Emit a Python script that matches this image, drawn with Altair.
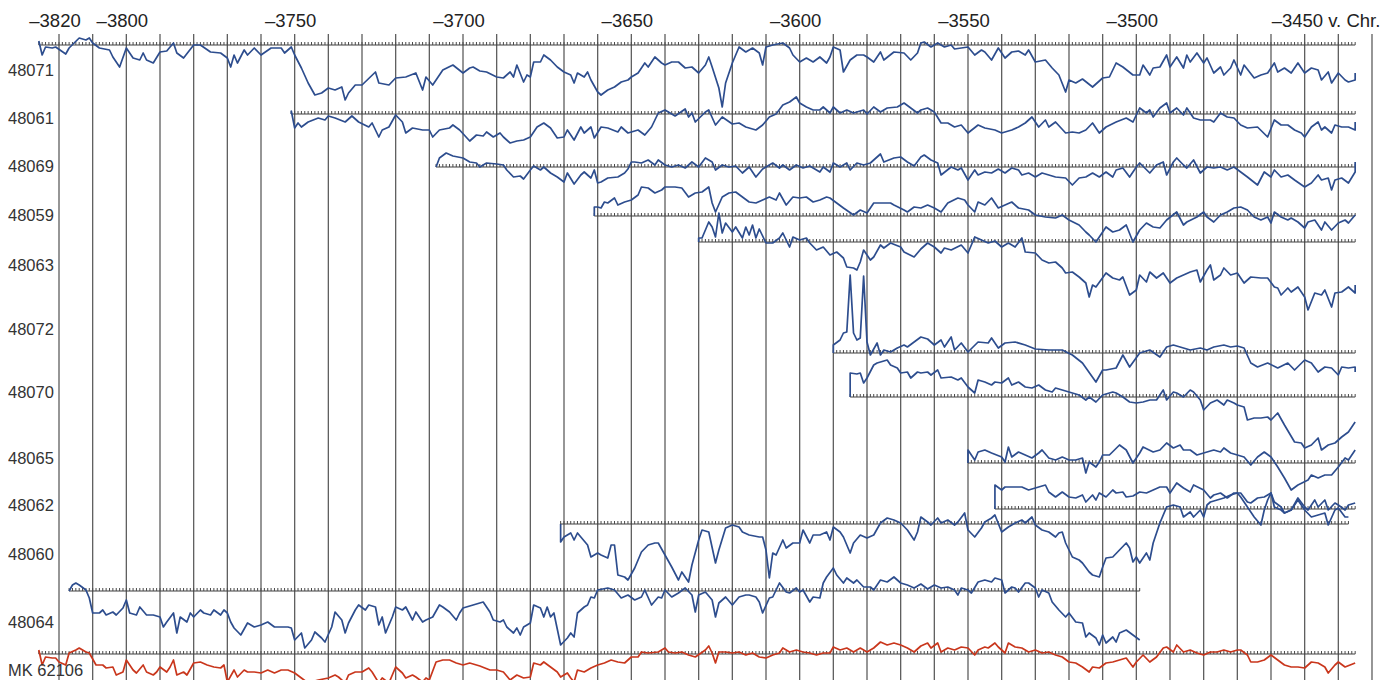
import altair as alt
import pandas as pd

# ---------------- data (years BC as negative numbers; curve values = deviation above the ruler line) -------------
SERIES = ["48071", "48061", "48069", "48059", "48063", "48072", "48070",
          "48065", "48062", "48060", "48064", "MK 62106"]
RULER_START = [-3826, -3751, -3708, -3661, -3630, -3590, -3585, -3550, -3542, -3671, -3817, -3826]
RULER_END = [-3435, -3435, -3435, -3435, -3435, -3435, -3435, -3435, -3435, -3437, -3499, -3435]

S_48071 = [(-3826,4),(-3825,-10),(-3824,-2),(-3822,-3),(-3821,-2),(-3818,-9),(-3817,-3),(-3814,7),(-3812,5),(-3811,7),
 (-3810,2),(-3808,-3),(-3805,-5),(-3804,-12),(-3802,-22),(-3800,-3),(-3798,-13),(-3796,-15),(-3795,-8),(-3794,-15),
 (-3792,-18),(-3790,-7),(-3788,-6),(-3786,2),(-3785,-8),(-3783,-13),(-3780,0),(-3778,0),(-3775,-7),(-3772,-8),
 (-3770,-13),(-3769,-22),(-3768,-10),(-3767,-18),(-3765,-5),(-3764,-10),(-3762,-3),(-3760,-10),(-3757,-3),(-3754,-3),
 (-3753,-8),(-3751,-2),(-3750,-10),(-3748,-23),(-3746,-38),(-3744,-50),(-3742,-48),(-3740,-43),(-3738,-45),(-3736,-42),
 (-3735,-55),(-3734,-48),(-3732,-40),(-3730,-40),(-3726,-27),(-3725,-38),(-3722,-40),(-3720,-33),(-3717,-32),(-3714,-28),
 (-3712,-45),(-3711,-32),(-3709,-40),(-3706,-25),(-3703,-20),(-3700,-28),(-3698,-23),(-3697,-22),(-3695,-26),(-3693,-27),
 (-3690,-32),(-3688,-33),(-3686,-27),(-3685,-32),(-3684,-20),(-3682,-37),(-3681,-30),(-3680,-32),(-3679,-17),(-3677,-17),
 (-3676,-10),(-3674,-15),(-3672,-22),(-3670,-27),(-3668,-30),(-3667,-38),(-3666,-28),(-3664,-32),(-3663,-27),(-3662,-35),
 (-3660,-47),(-3659,-50),(-3657,-45),(-3655,-42),(-3653,-37),(-3651,-35),(-3650,-32),(-3648,-28),(-3646,-18),(-3645,-22),
 (-3643,-12),(-3641,-18),(-3640,-20),(-3638,-17),(-3636,-17),(-3634,-23),(-3632,-22),(-3630,-28),(-3628,-20),(-3627,-12),
 (-3626,-22),(-3624,-43),(-3623,-62),(-3622,-38),(-3620,-18),(-3619,-10),(-3618,-2),(-3616,-7),(-3614,-3),(-3612,-8),
 (-3611,-20),(-3610,-2),(-3608,0),(-3605,2),(-3603,-3),(-3602,-10),(-3600,-17),(-3598,-13),(-3596,-17),(-3594,-12),
 (-3592,-18),(-3591,-12),(-3590,-2),(-3588,-5),(-3587,-27),(-3585,-15),(-3583,-10),(-3581,-10),(-3580,-12),(-3578,-17),
 (-3576,-7),(-3575,-15),(-3572,-7),(-3569,-8),(-3567,-15),(-3565,-8),(-3564,2),(-3563,3),(-3561,-2),(-3559,2),
 (-3557,-2),(-3555,0),(-3554,-4),(-3550,-2),(-3548,-10),(-3546,-5),(-3545,-7),(-3543,-15),(-3541,-3),(-3539,-13),
 (-3537,-7),(-3535,-6),(-3533,-10),(-3532,-5),(-3530,-17),(-3527,-15),(-3525,-23),(-3523,-30),(-3521,-47),(-3520,-35),
 (-3518,-38),(-3516,-34),(-3513,-42),(-3510,-33),(-3508,-32),(-3506,-18),(-3504,-22),(-3501,-30),(-3499,-30),(-3498,-20),
 (-3496,-30),(-3495,-23),(-3493,-22),(-3491,-10),(-3490,-22),(-3488,-12),(-3486,-23),(-3485,-10),(-3484,-17),(-3482,-8),
 (-3480,-18),(-3479,-13),(-3477,-28),(-3475,-22),(-3474,-30),(-3472,-23),(-3471,-15),(-3469,-30),(-3468,-20),(-3465,-33),
 (-3463,-30),(-3461,-28),(-3459,-18),(-3458,-27),(-3456,-23),(-3454,-28),(-3452,-18),(-3450,-28),(-3448,-23),(-3446,-25),
 (-3445,-35),(-3443,-27),(-3442,-38),(-3440,-28),(-3438,-35),(-3437,-37),(-3435,-35),(-3435,-28)]

S_48061 = [(-3751,0),(-3751,3),(-3750,-14),(-3749,-9),(-3748,-13),(-3746,-8),(-3743,-4),(-3741,-6),(-3740,-2),(-3738,-4),
 (-3735,-8),(-3733,-2),(-3731,-8),(-3728,-13),(-3727,-9),(-3725,-23),(-3724,-16),(-3722,-13),(-3720,-1),(-3718,-8),
 (-3717,-19),(-3715,-14),(-3712,-16),(-3710,-16),(-3709,-23),(-3707,-16),(-3704,-14),(-3703,-11),(-3701,-16),(-3698,-27),
 (-3696,-21),(-3694,-22),(-3693,-18),(-3691,-23),(-3689,-19),(-3688,-23),(-3686,-29),(-3684,-27),(-3682,-26),(-3680,-23),
 (-3678,-13),(-3676,-9),(-3674,-14),(-3672,-24),(-3670,-23),(-3669,-16),(-3667,-26),(-3665,-13),(-3664,-19),(-3662,-13),
 (-3661,-24),(-3659,-13),(-3657,-14),(-3654,-18),(-3653,-13),(-3651,-19),(-3648,-16),(-3646,-21),(-3644,-13),(-3642,1),
 (-3640,4),(-3638,0),(-3637,-2),(-3634,5),(-3633,-3),(-3632,1),(-3631,-8),(-3628,2),(-3627,4),(-3625,-11),
 (-3623,-3),(-3620,-10),(-3618,-9),(-3616,-13),(-3613,-16),(-3611,-11),(-3609,-3),(-3607,0),(-3605,9),(-3603,12),
 (-3601,17),(-3600,11),(-3598,7),(-3596,4),(-3594,4),(-3593,7),(-3591,1),(-3590,7),(-3588,1),(-3586,4),
 (-3584,1),(-3581,4),(-3580,0),(-3578,7),(-3576,2),(-3574,6),(-3571,7),(-3569,11),(-3567,6),(-3565,1),
 (-3564,4),(-3562,6),(-3560,2),(-3558,-9),(-3556,-9),(-3554,-13),(-3552,-11),(-3550,-19),(-3547,-11),(-3545,-14),
 (-3542,-16),(-3540,-19),(-3537,-16),(-3535,-13),(-3533,-9),(-3531,-3),(-3529,-13),(-3527,-6),(-3526,-13),(-3524,-8),
 (-3521,-19),(-3519,-18),(-3517,-19),(-3515,-16),(-3513,-9),(-3511,-19),(-3509,-13),(-3506,-8),(-3503,-4),(-3501,-8),
 (-3499,6),(-3497,1),(-3496,4),(-3495,-3),(-3493,6),(-3491,11),(-3490,1),(-3488,6),(-3486,-1),(-3485,6),
 (-3483,-4),(-3481,-6),(-3478,-6),(-3477,-8),(-3475,1),(-3473,-3),(-3471,-4),(-3469,-11),(-3467,-14),(-3464,-13),
 (-3461,-23),(-3459,-6),(-3457,-11),(-3455,-11),(-3453,-16),(-3451,-19),(-3450,-23),(-3448,-13),(-3446,-8),(-3445,-16),
 (-3444,-13),(-3442,-19),(-3441,-11),(-3439,-13),(-3437,-13),(-3435,-16),(-3435,-8)]

S_48069 = [(-3708,0),(-3707,9),(-3705,14),(-3703,11),(-3700,9),(-3698,5),(-3696,4),(-3695,0),(-3693,4),(-3690,3),
 (-3688,2),(-3687,-3),(-3685,-10),(-3683,-9),(-3682,-12),(-3680,-3),(-3679,1),(-3677,-3),(-3676,0),(-3674,-6),
 (-3672,-10),(-3670,-15),(-3669,-6),(-3667,-17),(-3665,-8),(-3664,-5),(-3662,-11),(-3661,-3),(-3660,-16),(-3659,-15),
 (-3657,-11),(-3654,-10),(-3652,-6),(-3651,-2),(-3650,5),(-3649,5),(-3647,4),(-3645,7),(-3643,2),(-3642,7),
 (-3640,2),(-3638,0),(-3636,2),(-3634,-1),(-3632,5),(-3630,0),(-3628,9),(-3626,5),(-3625,-3),(-3623,2),
 (-3621,0),(-3619,1),(-3617,-6),(-3615,0),(-3613,-10),(-3611,-2),(-3609,2),(-3608,4),(-3606,-1),(-3605,2),
 (-3603,-3),(-3601,2),(-3599,-1),(-3597,1),(-3594,-5),(-3593,0),(-3591,-5),(-3590,4),(-3588,0),(-3586,4),
 (-3585,-3),(-3583,4),(-3581,2),(-3579,4),(-3576,13),(-3575,5),(-3572,9),(-3570,10),(-3568,5),(-3566,1),
 (-3564,10),(-3563,12),(-3561,7),(-3559,4),(-3558,-8),(-3555,0),(-3553,-3),(-3552,-1),(-3550,-13),(-3548,-3),
 (-3547,-8),(-3545,-5),(-3543,-6),(-3541,-2),(-3539,-6),(-3537,-1),(-3535,-3),(-3534,-8),(-3532,-6),(-3530,-10),
 (-3528,-6),(-3526,-8),(-3524,-10),(-3521,-11),(-3519,-18),(-3517,-11),(-3515,-10),(-3513,-6),(-3511,-10),(-3509,-5),
 (-3507,-10),(-3506,-3),(-3504,-1),(-3502,-10),(-3500,0),(-3499,4),(-3496,-6),(-3494,2),(-3492,5),(-3491,-8),
 (-3489,5),(-3488,9),(-3486,2),(-3485,-1),(-3483,7),(-3481,-6),(-3479,0),(-3477,-1),(-3475,0),(-3473,-3),
 (-3471,0),(-3469,-5),(-3467,-10),(-3464,-18),(-3462,-5),(-3460,-10),(-3459,-3),(-3457,-10),(-3455,-8),(-3453,-13),
 (-3450,-20),(-3448,-16),(-3446,-8),(-3445,-13),(-3443,-11),(-3442,-23),(-3441,-13),(-3439,-11),(-3437,-16),(-3435,-5),
 (-3435,5)]

S_48059 = [(-3661,0),(-3661,9),(-3660,9),(-3659,8),(-3658,14),(-3657,13),(-3655,18),(-3654,11),(-3652,14),(-3650,16),
 (-3648,21),(-3647,29),(-3645,28),(-3643,23),(-3641,26),(-3640,29),(-3637,29),(-3635,28),(-3633,19),(-3631,23),
 (-3629,24),(-3627,29),(-3626,13),(-3625,4),(-3623,19),(-3621,23),(-3619,24),(-3617,19),(-3615,14),(-3613,13),
 (-3611,16),(-3609,19),(-3607,16),(-3606,23),(-3604,11),(-3602,19),(-3600,18),(-3598,19),(-3596,14),(-3594,16),
 (-3592,19),(-3591,18),(-3589,13),(-3587,8),(-3584,1),(-3582,6),(-3580,3),(-3578,13),(-3576,13),(-3573,13),
 (-3572,11),(-3569,6),(-3568,4),(-3566,9),(-3564,8),(-3562,11),(-3560,8),(-3558,4),(-3556,13),(-3553,18),
 (-3551,16),(-3550,11),(-3548,4),(-3547,14),(-3545,11),(-3543,18),(-3541,8),(-3539,11),(-3537,14),(-3535,8),
 (-3532,6),(-3530,1),(-3527,-1),(-3524,-2),(-3522,1),(-3520,-4),(-3517,-9),(-3515,-16),(-3514,-19),(-3512,-26),
 (-3510,-16),(-3509,-11),(-3507,-16),(-3505,-14),(-3503,-9),(-3501,-26),(-3499,-14),(-3497,-7),(-3495,-11),(-3493,-12),
 (-3491,-4),(-3488,4),(-3486,-9),(-3485,-6),(-3482,-1),(-3480,4),(-3479,-1),(-3477,-6),(-3475,1),(-3473,4),
 (-3471,8),(-3469,9),(-3467,6),(-3465,-1),(-3463,-4),(-3461,-1),(-3460,-7),(-3459,4),(-3457,-1),(-3455,-4),
 (-3454,-2),(-3452,-6),(-3450,-12),(-3449,-6),(-3447,-4),(-3445,-14),(-3444,-6),(-3442,-14),(-3440,-7),(-3438,-4),
 (-3437,-7),(-3435,1)]

S_48063 = [(-3630,0),(-3630,4),(-3629,4),(-3627,20),(-3626,15),(-3625,5),(-3624,29),(-3623,9),(-3622,19),(-3620,10),
 (-3619,15),(-3617,4),(-3616,15),(-3615,7),(-3614,17),(-3613,4),(-3612,13),(-3610,-1),(-3608,-1),(-3606,4),
 (-3605,9),(-3603,-5),(-3602,5),(-3600,2),(-3598,4),(-3597,-1),(-3595,-8),(-3593,-5),(-3591,-13),(-3589,-10),
 (-3587,-16),(-3586,-25),(-3584,-26),(-3583,-28),(-3582,-20),(-3581,-8),(-3579,-18),(-3578,-15),(-3576,-3),(-3575,-6),
 (-3573,-1),(-3570,-5),(-3569,-10),(-3566,-15),(-3564,-7),(-3562,-1),(-3560,-5),(-3558,-11),(-3557,-6),(-3555,-8),
 (-3552,-3),(-3550,-11),(-3548,5),(-3546,2),(-3544,-1),(-3542,1),(-3540,-5),(-3538,-1),(-3536,-5),(-3534,4),
 (-3533,-10),(-3530,-11),(-3528,-18),(-3526,-21),(-3524,-20),(-3522,-26),(-3521,-31),(-3519,-30),(-3517,-35),(-3515,-41),
 (-3514,-55),(-3513,-43),(-3512,-45),(-3509,-31),(-3507,-36),(-3505,-38),(-3504,-35),(-3502,-53),(-3500,-48),(-3499,-33),
 (-3497,-40),(-3496,-30),(-3494,-36),(-3492,-31),(-3490,-41),(-3488,-36),(-3486,-33),(-3484,-30),(-3482,-28),(-3481,-40),
 (-3479,-28),(-3478,-23),(-3477,-38),(-3475,-33),(-3474,-26),(-3472,-33),(-3470,-31),(-3468,-41),(-3466,-35),(-3463,-36),
 (-3461,-36),(-3459,-45),(-3458,-46),(-3457,-53),(-3455,-46),(-3454,-50),(-3452,-45),(-3450,-55),(-3449,-68),(-3447,-51),
 (-3445,-53),(-3444,-48),(-3442,-65),(-3441,-51),(-3439,-50),(-3437,-45),(-3435,-51),(-3435,-43)]

S_48072 = [(-3590,0),(-3590,8),(-3588,13),(-3587,20),(-3586,21),(-3585,78),(-3584,20),(-3583,13),(-3582,15),(-3581,77),
 (-3580,11),(-3579,-2),(-3577,10),(-3576,-2),(-3575,3),(-3573,1),(-3571,5),(-3569,8),(-3568,6),(-3566,11),
 (-3564,16),(-3562,14),(-3560,8),(-3558,13),(-3557,6),(-3555,16),(-3554,3),(-3552,10),(-3550,1),(-3547,11),
 (-3544,10),(-3543,15),(-3541,5),(-3539,10),(-3536,11),(-3533,8),(-3530,4),(-3526,3),(-3522,3),(-3519,-2),
 (-3516,-10),(-3512,-29),(-3510,-17),(-3509,-17),(-3506,-15),(-3504,-2),(-3502,-14),(-3499,0),(-3496,3),(-3493,-4),
 (-3491,6),(-3489,8),(-3484,3),(-3481,5),(-3479,3),(-3477,6),(-3474,8),(-3472,6),(-3470,7),(-3468,5),
 (-3466,-10),(-3464,-14),(-3461,-10),(-3458,-15),(-3455,-10),(-3453,-17),(-3450,-7),(-3448,-10),(-3446,-19),(-3444,-14),
 (-3442,-15),(-3440,-22),(-3439,-14),(-3437,-15),(-3435,-14),(-3435,-19)]

S_48070 = [(-3585,0),(-3585,24),(-3583,23),(-3582,24),(-3581,14),(-3580,19),(-3578,32),(-3577,34),(-3576,35),(-3574,37),
 (-3573,32),(-3571,29),(-3570,24),(-3568,25),(-3567,19),(-3565,25),(-3564,24),(-3562,25),(-3561,22),(-3559,27),
 (-3558,19),(-3555,20),(-3553,17),(-3552,19),(-3550,10),(-3548,4),(-3547,17),(-3545,15),(-3543,12),(-3542,15),
 (-3540,14),(-3538,19),(-3537,12),(-3535,15),(-3533,10),(-3531,9),(-3529,12),(-3527,7),(-3525,5),(-3524,9),
 (-3522,7),(-3519,4),(-3517,2),(-3515,-3),(-3514,0),(-3512,-5),(-3510,2),(-3508,4),(-3507,5),(-3506,4),
 (-3504,0),(-3502,-5),(-3500,-6),(-3498,-5),(-3496,-3),(-3494,-3),(-3492,7),(-3491,-3),(-3489,5),(-3488,4),
 (-3486,0),(-3484,7),(-3483,5),(-3481,-3),(-3480,-13),(-3478,-6),(-3476,-3),(-3474,-8),(-3473,-3),(-3471,-6),
 (-3470,-8),(-3468,-10),(-3467,-23),(-3465,-21),(-3463,-21),(-3461,-20),(-3460,-23),(-3458,-16),(-3456,-28),(-3453,-45),
 (-3451,-46),(-3450,-51),(-3448,-48),(-3446,-41),(-3445,-53),(-3443,-48),(-3441,-46),(-3439,-40),(-3437,-35),(-3436,-30),
 (-3435,-25)]

S_48065 = [(-3550,0),(-3550,13),(-3548,3),(-3547,11),(-3545,13),(-3543,10),(-3540,6),(-3539,1),(-3538,16),(-3537,6),
 (-3535,11),(-3533,8),(-3531,5),(-3529,10),(-3528,13),(-3526,5),(-3524,3),(-3522,6),(-3520,3),(-3518,3),
 (-3516,5),(-3515,-10),(-3514,1),(-3512,-4),(-3511,1),(-3510,8),(-3508,8),(-3505,18),(-3503,13),(-3501,0),
 (-3499,10),(-3498,16),(-3495,11),(-3493,13),(-3491,20),(-3489,15),(-3487,18),(-3486,13),(-3484,13),(-3482,8),
 (-3479,11),(-3477,13),(-3475,11),(-3474,15),(-3472,10),(-3470,8),(-3468,6),(-3466,-2),(-3464,6),(-3462,11),
 (-3460,6),(-3458,-4),(-3456,-15),(-3454,-27),(-3452,-22),(-3449,-17),(-3448,-12),(-3446,-15),(-3444,-12),(-3442,-12),
 (-3440,-4),(-3438,5),(-3437,3),(-3435,13)]

S_48062 = [(-3542,0),(-3542,24),(-3540,19),(-3539,22),(-3536,22),(-3534,22),(-3532,19),(-3530,21),(-3527,24),(-3526,17),
 (-3524,12),(-3522,17),(-3520,12),(-3518,11),(-3516,14),(-3515,7),(-3513,14),(-3512,9),(-3511,16),(-3509,12),
 (-3507,19),(-3506,16),(-3504,17),(-3503,12),(-3501,13),(-3499,17),(-3497,16),(-3495,19),(-3493,22),(-3491,22),
 (-3490,16),(-3488,26),(-3486,21),(-3484,17),(-3483,24),(-3480,19),(-3478,11),(-3477,14),(-3475,16),(-3473,11),
 (-3471,16),(-3469,16),(-3467,7),(-3466,6),(-3464,11),(-3462,12),(-3460,16),(-3459,7),(-3457,2),(-3456,-4),
 (-3454,-1),(-3452,11),(-3450,2),(-3449,-1),(-3447,9),(-3446,2),(-3444,9),(-3443,-1),(-3441,6),(-3440,4),
 (-3438,-1),(-3437,4),(-3435,6)]

S_48060 = [(-3671,0),(-3671,-18),(-3670,-13),(-3668,-9),(-3667,-16),(-3666,-9),(-3665,-13),(-3663,-21),(-3662,-33),(-3660,-29),
 (-3659,-31),(-3657,-34),(-3656,-21),(-3655,-21),(-3654,-51),(-3652,-53),(-3651,-56),(-3649,-44),(-3647,-28),(-3645,-21),
 (-3643,-19),(-3642,-19),(-3640,-31),(-3638,-43),(-3636,-56),(-3635,-48),(-3633,-58),(-3632,-41),(-3630,-16),(-3629,-6),
 (-3627,-8),(-3625,-39),(-3624,-26),(-3622,-4),(-3620,-1),(-3618,-3),(-3617,-8),(-3615,-11),(-3612,-13),(-3611,-13),
 (-3610,-26),(-3609,-54),(-3608,-29),(-3607,-31),(-3605,-16),(-3604,-24),(-3602,-19),(-3600,-19),(-3599,-6),(-3597,-19),
 (-3596,-11),(-3594,-11),(-3592,-8),(-3591,-16),(-3590,-3),(-3588,-8),(-3587,-13),(-3585,-29),(-3584,-19),(-3582,-11),
 (-3580,-14),(-3578,-11),(-3576,1),(-3574,6),(-3572,4),(-3570,1),(-3568,-6),(-3566,-16),(-3565,-8),(-3564,7),
 (-3562,2),(-3561,-1),(-3559,6),(-3558,1),(-3556,4),(-3554,-1),(-3553,2),(-3551,11),(-3550,-6),(-3548,-13),
 (-3546,-4),(-3545,2),(-3543,6),(-3542,9),(-3540,-8),(-3538,-3),(-3536,1),(-3534,4),(-3533,1),(-3531,7),
 (-3530,-1),(-3528,-6),(-3526,-8),(-3524,-13),(-3523,-9),(-3522,-8),(-3521,-19),(-3519,-33),(-3517,-36),(-3516,-39),
 (-3514,-48),(-3513,-51),(-3511,-53),(-3510,-43),(-3509,-34),(-3507,-33),(-3505,-26),(-3503,-19),(-3502,-24),(-3501,-38),
 (-3500,-33),(-3499,-39),(-3497,-29),(-3496,-36),(-3495,-19),(-3493,1),(-3491,17),(-3489,19),(-3487,17),(-3486,7),
 (-3484,12),(-3483,7),(-3481,14),(-3480,7),(-3479,19),(-3478,22),(-3476,24),(-3474,26),(-3472,29),(-3470,31),
 (-3469,27),(-3467,17),(-3465,7),(-3463,-1),(-3462,14),(-3461,24),(-3460,31),(-3459,17),(-3457,14),(-3456,11),
 (-3454,14),(-3452,24),(-3450,14),(-3448,7),(-3446,9),(-3444,11),(-3443,-1),(-3441,14),(-3440,16),(-3438,7),
 (-3437,7)]

S_48064 = [(-3817,0),(-3816,6),(-3815,8),(-3814,6),(-3812,1),(-3811,-7),(-3810,-22),(-3808,-22),(-3807,-19),(-3806,-24),
 (-3804,-21),(-3803,-24),(-3801,-17),(-3800,-9),(-3799,-22),(-3797,-24),(-3796,-16),(-3794,-24),(-3792,-24),(-3790,-26),
 (-3789,-36),(-3788,-31),(-3786,-22),(-3785,-42),(-3784,-26),(-3782,-31),(-3781,-22),(-3780,-26),(-3778,-19),(-3777,-22),
 (-3775,-24),(-3774,-19),(-3772,-24),(-3771,-19),(-3770,-22),(-3769,-31),(-3768,-37),(-3766,-44),(-3764,-32),(-3762,-36),
 (-3760,-34),(-3758,-31),(-3756,-36),(-3754,-36),(-3752,-36),(-3751,-37),(-3750,-49),(-3748,-42),(-3747,-57),(-3745,-49),
 (-3744,-41),(-3742,-47),(-3741,-51),(-3739,-36),(-3738,-21),(-3736,-29),(-3735,-42),(-3734,-32),(-3732,-19),(-3731,-14),
 (-3729,-19),(-3728,-14),(-3726,-16),(-3725,-34),(-3724,-26),(-3723,-42),(-3721,-26),(-3720,-16),(-3718,-19),(-3717,-16),
 (-3715,-29),(-3714,-21),(-3712,-31),(-3711,-29),(-3709,-26),(-3707,-14),(-3706,-16),(-3704,-21),(-3702,-29),(-3701,-22),
 (-3700,-17),(-3699,-16),(-3697,-14),(-3694,-11),(-3692,-21),(-3691,-29),(-3689,-31),(-3688,-29),(-3687,-36),(-3685,-42),
 (-3684,-37),(-3683,-44),(-3682,-36),(-3680,-32),(-3679,-14),(-3677,-17),(-3676,-26),(-3675,-16),(-3674,-26),(-3673,-22),
 (-3671,-54),(-3669,-47),(-3668,-42),(-3667,-46),(-3666,-22),(-3664,-16),(-3663,-14),(-3662,-6),(-3661,-7),(-3660,1),
 (-3657,3),(-3655,1),(-3653,-7),(-3651,-4),(-3649,-9),(-3647,-6),(-3646,1),(-3644,-14),(-3642,-6),(-3641,-7),
 (-3640,1),(-3638,-6),(-3636,-2),(-3634,3),(-3632,-4),(-3631,-21),(-3630,-4),(-3628,-1),(-3626,-9),(-3625,-26),
 (-3624,-12),(-3622,-6),(-3620,-14),(-3618,-6),(-3616,-4),(-3615,-4),(-3613,-6),(-3612,-11),(-3611,-22),(-3609,-7),
 (-3608,-6),(-3606,8),(-3604,-1),(-3603,-2),(-3601,3),(-3600,-1),(-3599,1),(-3597,-11),(-3596,-6),(-3594,-7),
 (-3593,8),(-3592,14),(-3590,23),(-3589,16),(-3587,8),(-3586,13),(-3584,8),(-3583,11),(-3581,4),(-3579,4),
 (-3578,1),(-3576,11),(-3574,9),(-3572,14),(-3570,8),(-3568,6),(-3566,3),(-3564,7),(-3562,2),(-3560,6),
 (-3558,3),(-3556,4),(-3554,1),(-3553,-4),(-3552,3),(-3550,1),(-3549,-2),(-3547,9),(-3545,11),(-3543,9),
 (-3542,13),(-3540,11),(-3539,-2),(-3537,4),(-3536,3),(-3535,-1),(-3533,8),(-3532,8),(-3530,3),(-3529,-6),
 (-3528,1),(-3526,-2),(-3525,-11),(-3523,-19),(-3521,-26),(-3520,-22),(-3518,-31),(-3516,-32),(-3515,-46),(-3514,-42),
 (-3512,-47),(-3511,-54),(-3510,-44),(-3509,-52),(-3507,-46),(-3506,-51),(-3505,-42),(-3503,-39),(-3501,-44),(-3499,-49)]

S_MK62106 = [(-3826,4),(-3825,-11),(-3824,-3),(-3822,-4),(-3821,-4),(-3820,-8),(-3818,-11),(-3817,1),(-3815,4),(-3814,6),
 (-3812,2),(-3811,1),(-3809,-11),(-3807,-11),(-3806,-14),(-3804,-13),(-3803,-21),(-3801,-18),(-3800,-6),(-3798,-16),
 (-3797,-19),(-3795,-11),(-3794,-18),(-3792,-21),(-3791,-18),(-3790,-13),(-3788,-18),(-3787,-13),(-3786,-6),(-3785,-21),
 (-3783,-18),(-3782,-21),(-3780,-9),(-3778,-8),(-3776,-11),(-3774,-13),(-3772,-14),(-3771,-11),(-3770,-28),(-3768,-16),
 (-3767,-23),(-3765,-16),(-3764,-18),(-3762,-18),(-3760,-19),(-3758,-16),(-3756,-19),(-3754,-16),(-3752,-16),(-3750,-19),
 (-3748,-24),(-3746,-29),(-3745,-28),(-3743,-26),(-3740,-24),(-3738,-21),(-3737,-23),(-3735,-29),(-3734,-21),(-3732,-18),
 (-3730,-18),(-3728,-14),(-3727,-18),(-3725,-29),(-3724,-24),(-3722,-29),(-3720,-13),(-3718,-19),(-3717,-24),(-3715,-21),
 (-3714,-23),(-3712,-28),(-3711,-24),(-3710,-26),(-3708,-8),(-3706,-6),(-3704,-6),(-3702,-9),(-3700,-11),(-3698,-9),
 (-3695,-12),(-3692,-16),(-3690,-16),(-3688,-18),(-3686,-26),(-3684,-21),(-3682,-24),(-3680,-23),(-3679,-9),(-3677,-11),
 (-3676,-8),(-3674,-13),(-3672,-18),(-3671,-23),(-3669,-19),(-3668,-24),(-3667,-28),(-3666,-16),(-3664,-18),(-3662,-14),
 (-3660,-11),(-3658,-9),(-3656,-6),(-3654,-8),(-3652,-9),(-3650,-3),(-3648,-3),(-3647,2),(-3645,1),(-3642,2),
 (-3640,6),(-3639,2),(-3637,1),(-3635,2),(-3633,-1),(-3631,-3),(-3628,4),(-3627,8),(-3626,1),(-3625,-9),
 (-3624,2),(-3622,2),(-3620,1),(-3618,2),(-3616,-1),(-3614,1),(-3612,-3),(-3610,-4),(-3608,-1),(-3606,1),
 (-3605,6),(-3603,2),(-3601,4),(-3599,2),(-3597,1),(-3595,-1),(-3593,1),(-3591,1),(-3590,7),(-3588,4),
 (-3586,6),(-3584,2),(-3582,6),(-3580,2),(-3578,6),(-3576,12),(-3574,9),(-3572,11),(-3570,9),(-3568,6),
 (-3566,2),(-3564,8),(-3562,11),(-3561,6),(-3559,11),(-3558,2),(-3556,6),(-3554,4),(-3552,7),(-3550,6),
 (-3548,-1),(-3547,4),(-3545,7),(-3544,6),(-3542,11),(-3541,7),(-3539,1),(-3538,11),(-3536,7),(-3534,6),
 (-3532,2),(-3530,4),(-3528,1),(-3526,2),(-3524,-1),(-3522,-3),(-3520,-8),(-3518,-9),(-3516,-13),(-3514,-18),
 (-3513,-13),(-3511,-14),(-3509,-9),(-3507,-8),(-3505,-6),(-3503,-4),(-3501,-13),(-3500,-8),(-3498,-1),(-3496,-8),
 (-3494,-3),(-3492,6),(-3491,7),(-3489,2),(-3488,9),(-3486,2),(-3484,4),(-3482,1),(-3480,-1),(-3478,2),
 (-3476,2),(-3474,4),(-3472,2),(-3470,4),(-3469,4),(-3467,-1),(-3466,-8),(-3464,-8),(-3462,-6),(-3460,-1),
 (-3458,-6),(-3456,-11),(-3454,-13),(-3452,-13),(-3450,-14),(-3448,-8),(-3446,-9),(-3444,-13),(-3443,-19),(-3441,-11),
 (-3440,-8),(-3438,-13),(-3435,-9)]

CURVES = [S_48071, S_48061, S_48069, S_48059, S_48063, S_48072, S_48070,
          S_48065, S_48062, S_48060, S_48064, S_MK62106]

YEAR_LABELS = [-3820, -3800, -3750, -3700, -3650, -3600, -3550, -3500]
LAST_LABEL = -3450
GRID_YEARS = list(range(-3820, -3429, 10))

# ---------------- layout (track positions, styles) ----------------
TRACK = [9, 78, 131, 180, 206, 317, 361, 427, 473, 488, 555, 618]      # ruler depth of each series
LABEL_TRACK = [35, 83, 131, 180, 230, 294, 357, 423, 470, 519, 587, 635]
TICK_LEN = 3
BLUE = "#2d4d8e"
RED = "#c9361c"
COLORS = [BLUE] * 11 + [RED]
W, H = 1378, 644
X_DOMAIN = [-3835.15, -3425.84]

# ---------------- tables ----------------
rows = []
for name, base, pts in zip(SERIES, TRACK, CURVES):
    for i, (yr, dev) in enumerate(pts):
        rows.append({"series": name, "year": yr, "depth": base - dev, "idx": i})
curve_df = pd.DataFrame(rows)

ruler_df = pd.DataFrame({"series": SERIES, "start": RULER_START, "end": RULER_END, "depth": TRACK})
tick_rows = []
for name, s, e, base in zip(SERIES, RULER_START, RULER_END, TRACK):
    for yr in range(s, e + 1):
        tick_rows.append({"series": name, "year": yr, "depth": base, "top": base - TICK_LEN})
tick_df = pd.DataFrame(tick_rows)

label_df = pd.DataFrame({"label": SERIES, "depth": LABEL_TRACK})
grid_df = pd.DataFrame({"year": GRID_YEARS})
ylab_df = pd.DataFrame({"year": YEAR_LABELS, "text": ["\u2013" + str(abs(y)) for y in YEAR_LABELS]})
last_df = pd.DataFrame({"year": [LAST_LABEL], "text": ["\u2013" + str(abs(LAST_LABEL)) + " v. Chr."]})

XS = alt.Scale(domain=X_DOMAIN, nice=False, zero=False)
YS = alt.Scale(domain=[0, H], reverse=True, nice=False, zero=False)
FONT = "Liberation Sans"

grid = alt.Chart(grid_df).mark_rule(color="#5e5e5e", strokeWidth=1.3).encode(
    x=alt.X("year:Q", scale=XS, axis=None), y=alt.value(-2), y2=alt.value(H))

rulers = alt.Chart(ruler_df).mark_rule(color="#3f3f3f", strokeWidth=1.2).encode(
    x=alt.X("start:Q", scale=XS, axis=None), x2="end:Q",
    y=alt.Y("depth:Q", scale=YS, axis=None))

ticks = alt.Chart(tick_df).mark_rule(color="#4a4a4a", strokeWidth=1).encode(
    x=alt.X("year:Q", scale=XS, axis=None),
    y=alt.Y("depth:Q", scale=YS, axis=None), y2="top:Q")

lines = alt.Chart(curve_df).mark_line(strokeWidth=1.7, strokeJoin="round").encode(
    x=alt.X("year:Q", scale=XS, axis=None),
    y=alt.Y("depth:Q", scale=YS, axis=None),
    color=alt.Color("series:N", scale=alt.Scale(domain=SERIES, range=COLORS), legend=None),
    detail="series:N",
    order="idx:Q")

labels = alt.Chart(label_df).mark_text(align="left", baseline="middle", font=FONT,
                                       fontSize=16.5, color="#333333").encode(
    x=alt.value(0), y=alt.Y("depth:Q", scale=YS, axis=None), text="label:N")

ylabels = alt.Chart(ylab_df).mark_text(align="center", baseline="alphabetic", font=FONT,
                                       fontSize=18.5, color="#222222", dx=-4).encode(
    x=alt.X("year:Q", scale=XS, axis=None), y=alt.value(-9), text="text:N")

lastlabel = alt.Chart(last_df).mark_text(align="left", baseline="alphabetic", font=FONT,
                                         fontSize=18.5, color="#222222", dx=-33).encode(
    x=alt.X("year:Q", scale=XS, axis=None), y=alt.value(-9), text="text:N")

chart = alt.layer(grid, rulers, ticks, lines, labels, ylabels, lastlabel).properties(
    width=W, height=H,
    padding={"left": 0, "top": 28, "right": 0, "bottom": 0},
    autosize=alt.AutoSizeParams(type="none"),
    background="white",
).configure_view(stroke=None)

chart.save("out.html", embed_options={"renderer": "svg", "actions": False})
